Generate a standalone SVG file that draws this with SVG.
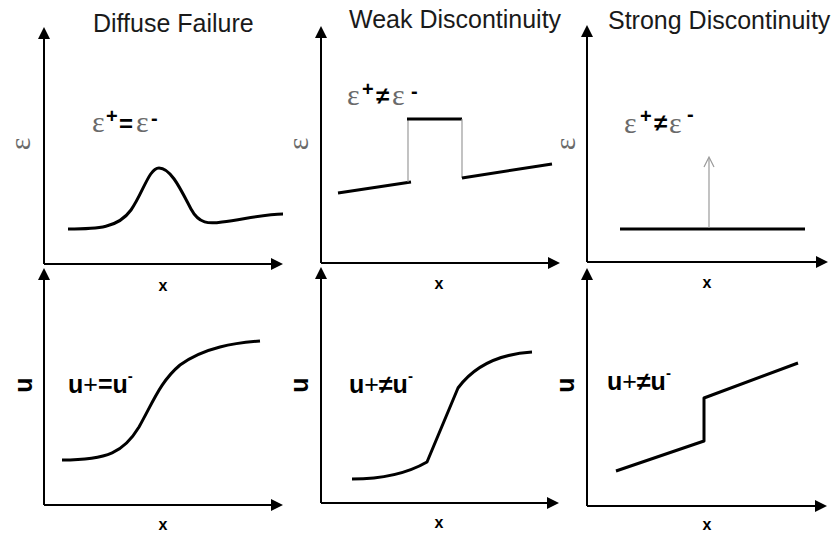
<svg xmlns="http://www.w3.org/2000/svg" width="833" height="533" viewBox="0 0 833 533">
<style>
.axis{stroke:#000;stroke-width:2;fill:none;marker-end:url(#ah)}
.curve{stroke:#000;stroke-width:3;fill:none;stroke-linejoin:round;stroke-linecap:butt}
.thin{stroke:#9a9a9a;stroke-width:1.2;fill:none}
.title{font-family:"Liberation Sans",Arial,sans-serif;font-size:25px;fill:#1a1a1a}
.xl{font-family:"Liberation Sans",Arial,sans-serif;font-size:16px;font-weight:bold;fill:#000}
.eps{font-family:"Liberation Serif","Times New Roman",serif;font-size:30px;fill:#6a6a6a}
.sym{font-family:"Liberation Sans",Arial,sans-serif;font-weight:bold;fill:#000}
.ul{font-family:"Liberation Sans",Arial,sans-serif;font-size:25px;font-weight:bold;fill:#000}
</style>
<defs>
<marker id="ah" markerUnits="userSpaceOnUse" markerWidth="14" markerHeight="12" refX="8" refY="6" orient="auto">
<path d="M0,0 L12,6 L0,12 Z" fill="#000"/>
</marker>
</defs>
<rect width="833" height="533" fill="#fff"/>

<g id="titles">
<text class="title" x="93" y="32">Diffuse Failure</text>
<text class="title" x="349" y="28">Weak Discontinuity</text>
<text class="title" x="608" y="29">Strong Discontinuity</text>
</g>

<g id="connectors">
<!-- panel 1 top axes -->
<line class="axis" x1="44" y1="264" x2="44" y2="31"/>
<line class="axis" x1="44" y1="264" x2="279" y2="264"/>
<!-- panel 1 bottom axes -->
<line class="axis" x1="44" y1="505" x2="44" y2="272"/>
<line class="axis" x1="44" y1="505" x2="279" y2="505"/>
<!-- panel 2 top axes -->
<line class="axis" x1="321" y1="263" x2="321" y2="30"/>
<line class="axis" x1="321" y1="263" x2="556" y2="263"/>
<!-- panel 2 bottom axes -->
<line class="axis" x1="321" y1="503" x2="321" y2="271"/>
<line class="axis" x1="321" y1="503" x2="555" y2="503"/>
<!-- panel 3 top axes -->
<line class="axis" x1="587" y1="262" x2="587" y2="29"/>
<line class="axis" x1="587" y1="262" x2="824" y2="262"/>
<!-- panel 3 bottom axes -->
<line class="axis" x1="587" y1="506" x2="587" y2="272"/>
<line class="axis" x1="587" y1="506" x2="823" y2="506"/>
</g>

<g id="panel-diffuse-strain">
<text class="eps" transform="translate(30,144) rotate(-90)" text-anchor="middle">ε</text>
<path class="curve" d="M68,229 C98,229 118,228 131,210 C143,193 149,168 159,168 C171,168 181,190 191,209 C199,224 209,224 222,222 C245,219 265,214 283,214"/>
<text class="eps" x="92" y="132">ε</text>
<text class="sym" x="106" y="123" font-size="20">+</text>
<text class="sym" x="119" y="132" font-size="24">=</text>
<text class="eps" x="136" y="132">ε</text>
<text class="sym" x="151" y="125" font-size="20">-</text>
<text class="xl" x="163" y="291" text-anchor="middle">x</text>
</g>

<g id="panel-diffuse-disp">
<text class="ul" transform="translate(32,385) rotate(-90)" text-anchor="middle">u</text>
<path class="curve" d="M62,460 C108,460 124,452 139,427 C154,400 161,381 180,365 C205,347 235,343 260,341"/>
<text class="ul" x="68" y="393">u<tspan font-weight="normal">+</tspan>=u<tspan font-size="15" dy="-12">-</tspan></text>
<text class="xl" x="163" y="530" text-anchor="middle">x</text>
</g>

<g id="panel-weak-strain">
<text class="eps" transform="translate(308,144) rotate(-90)" text-anchor="middle">ε</text>
<line class="curve" x1="338" y1="193" x2="411" y2="182"/>
<line class="thin" x1="408" y1="182" x2="408" y2="119"/>
<line class="curve" x1="407" y1="119" x2="462" y2="119"/>
<line class="thin" x1="462" y1="119" x2="462" y2="178"/>
<line class="curve" x1="462" y1="178" x2="552" y2="164"/>
<text class="eps" x="347" y="105">ε</text>
<text class="sym" x="362" y="96" font-size="20">+</text>
<text class="sym" x="376" y="104" font-size="24" font-weight="normal">≠</text>
<text class="eps" x="392" y="105">ε</text>
<text class="sym" x="411" y="98" font-size="20">-</text>
<text class="xl" x="439" y="289" text-anchor="middle">x</text>
</g>

<g id="panel-weak-disp">
<text class="ul" transform="translate(308,385) rotate(-90)" text-anchor="middle">u</text>
<path class="curve" d="M352,479 C385,479 408,473 427,462 L458,388 C475,365 500,354 532,352"/>
<text class="ul" x="349" y="393">u<tspan font-weight="normal">+</tspan>≠u<tspan font-size="15" dy="-12">-</tspan></text>
<text class="xl" x="439" y="528" text-anchor="middle">x</text>
</g>

<g id="panel-strong-strain">
<text class="eps" transform="translate(575,144) rotate(-90)" text-anchor="middle">ε</text>
<line class="curve" x1="620" y1="229" x2="805" y2="229"/>
<line class="thin" x1="709" y1="228" x2="709" y2="158"/>
<polyline class="thin" points="704,167 709,157 714,167"/>
<text class="eps" x="624" y="133">ε</text>
<text class="sym" x="640" y="123" font-size="20">+</text>
<text class="sym" x="654" y="131" font-size="24" font-weight="normal">≠</text>
<text class="eps" x="669" y="133">ε</text>
<text class="sym" x="687" y="121" font-size="20">-</text>
<text class="xl" x="707" y="288" text-anchor="middle">x</text>
</g>

<g id="panel-strong-disp">
<text class="ul" transform="translate(574,385) rotate(-90)" text-anchor="middle">u</text>
<polyline class="curve" points="616,471 704,441 704,398 798,363"/>
<text class="ul" x="607" y="390">u<tspan font-weight="normal">+</tspan>≠u<tspan font-size="15" dy="-12">-</tspan></text>
<text class="xl" x="707" y="530" text-anchor="middle">x</text>
</g>
</svg>
